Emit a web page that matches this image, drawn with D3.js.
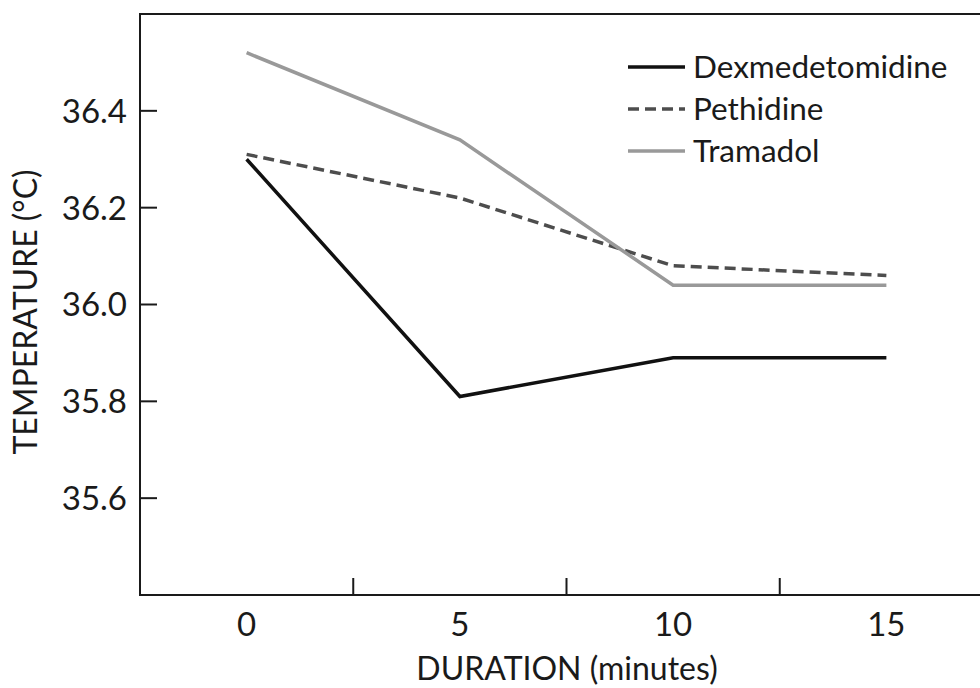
<!DOCTYPE html>
<html>
<head>
<meta charset="utf-8">
<script src="https://cdn.jsdelivr.net/npm/d3@7"></script>
<style>
  body { margin: 0; background: #fff; }
  text { font-family: Lato, "Open Sans", sans-serif; fill: #1a1a1a; }
</style>
</head>
<body>
<svg id="chart" width="980" height="688"></svg>
<script>
// data
var durations = [0, 5, 10, 15]
var yTicks = [35.6, 35.8, 36.0, 36.2, 36.4]
var dexmedetomidine = [36.30, 35.81, 35.89, 35.89]
var pethidine = [36.31, 36.22, 36.08, 36.06]
var tramadol = [36.52, 36.34, 36.04, 36.04]
var seriesNames = ["Dexmedetomidine", "Pethidine", "Tramadol"]

var series = [
    { name: seriesNames[0], values: dexmedetomidine, color: "#111", dash: null, width: 3.5 },
    { name: seriesNames[1], values: pethidine, color: "#4d4d4d", dash: "11,6", width: 3.5 },
    { name: seriesNames[2], values: tramadol, color: "#999", dash: null, width: 3.5 }
]

var margin = {top: 14, right: -13, bottom: 93, left: 140},
    width = 980 - margin.left - margin.right,
    height = 688 - margin.top - margin.bottom;

var svg = d3.select("#chart")
var g = svg.append("g")
    .attr("transform", "translate(" + margin.left + "," + margin.top + ")")

var x = d3.scaleBand().domain(durations).range([0, width])
var y = d3.scaleLinear().domain([35.4, 36.6]).range([height, 0])
var cx = function(d) { return x(d) + x.bandwidth() / 2 }

// frame
g.append("rect")
    .attr("width", width).attr("height", height)
    .attr("fill", "none").attr("stroke", "#1a1a1a").attr("stroke-width", 2)

// y ticks (inward)
var yAxis = g.append("g")
yAxis.selectAll("line").data(yTicks).enter().append("line")
    .attr("x1", 0).attr("x2", 17)
    .attr("y1", function(d) { return y(d) }).attr("y2", function(d) { return y(d) })
    .attr("stroke", "#1a1a1a").attr("stroke-width", 2)
yAxis.selectAll("text").data(yTicks).enter().append("text")
    .attr("x", -13)
    .attr("y", function(d) { return y(d) })
    .attr("dy", "0.36em")
    .attr("text-anchor", "end")
    .style("font-size", "33px")
    .text(d3.format(".1f"))

// x ticks sit between the categories
var xAxis = g.append("g")
xAxis.selectAll("line").data(durations.slice(1)).enter().append("line")
    .attr("x1", function(d) { return x(d) }).attr("x2", function(d) { return x(d) })
    .attr("y1", height).attr("y2", height - 17)
    .attr("stroke", "#1a1a1a").attr("stroke-width", 2)
xAxis.selectAll("text").data(durations).enter().append("text")
    .attr("x", cx)
    .attr("y", height + 41)
    .attr("text-anchor", "middle")
    .style("font-size", "33px")
    .text(function(d) { return d })

// axis titles
g.append("text")
    .attr("x", 427).attr("y", height + 85)
    .attr("text-anchor", "middle")
    .style("font-size", "32px")
    .text("DURATION (minutes)")

svg.append("text")
    .attr("transform", "translate(37," + 312 + ") rotate(-90)")
    .attr("text-anchor", "middle")
    .style("font-size", "32px")
    .text("TEMPERATURE (°C)")

// lines
var line = d3.line()
    .x(function(d, i) { return cx(durations[i]) })
    .y(function(d) { return y(d) })

g.selectAll(".series").data(series).enter().append("path")
    .attr("class", "series")
    .attr("d", function(s) { return line(s.values) })
    .attr("fill", "none")
    .attr("stroke", function(s) { return s.color })
    .attr("stroke-width", function(s) { return s.width })
    .attr("stroke-dasharray", function(s) { return s.dash })

// legend
var legend = g.append("g").attr("transform", "translate(488,53)")
var item = legend.selectAll("g").data(series).enter().append("g")
    .attr("transform", function(s, i) { return "translate(0," + (i * 42) + ")" })
item.append("line")
    .attr("x1", 0).attr("x2", 57)
    .attr("stroke", function(s) { return s.color })
    .attr("stroke-width", function(s) { return s.width })
    .attr("stroke-dasharray", function(s) { return s.dash })
item.append("text")
    .attr("x", 65).attr("dy", "0.36em")
    .style("font-size", "31.5px")
    .text(function(s) { return s.name })
</script>
</body>
</html>
